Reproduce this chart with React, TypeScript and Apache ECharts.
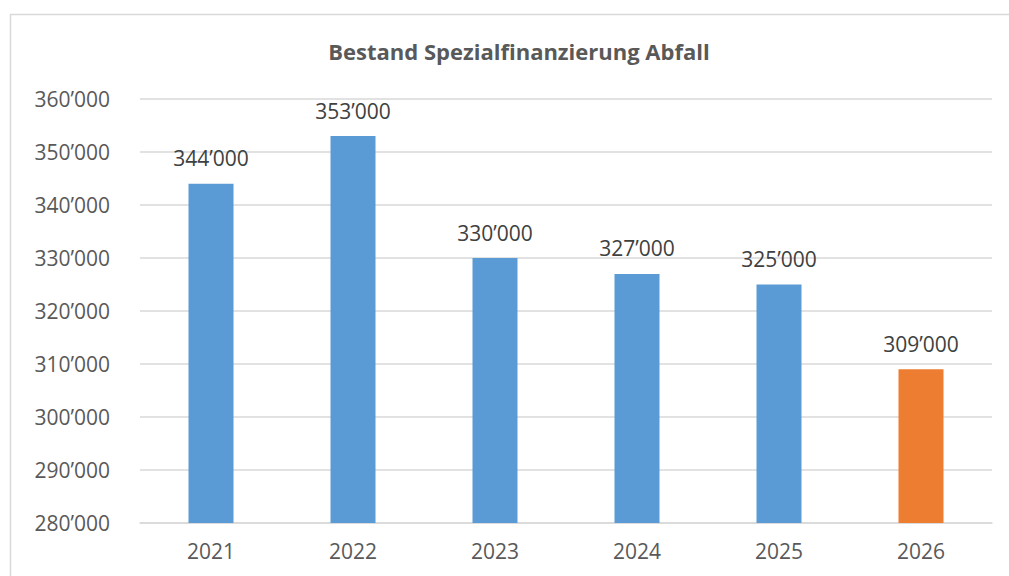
import React, { useEffect, useRef } from "react";
import * as echarts from "echarts";

const years = ["2021", "2022", "2023", "2024", "2025", "2026"];
const values = [344000, 353000, 330000, 327000, 325000, 309000];
const barColors = ["#5B9BD5", "#5B9BD5", "#5B9BD5", "#5B9BD5", "#5B9BD5", "#ED7D31"];
const titleText = "Bestand Spezialfinanzierung Abfall";

const fmt = (v: number) => {
  const s = String(Math.round(v));
  return s.replace(/\B(?=(\d{3})+(?!\d))/g, "\u2019");
};

const FONT = "'Open Sans', 'Noto Sans', sans-serif";

export default function App() {
  const ref = useRef<HTMLDivElement>(null);
  useEffect(() => {
    if (!ref.current) return;
    const chart = echarts.init(ref.current, undefined, { renderer: "svg" });
    chart.setOption({
      animation: false,
      backgroundColor: "#ffffff",
      title: {
        text: titleText,
        left: 514,
        textAlign: "center",
        top: 35,
        textStyle: { fontFamily: FONT, fontWeight: "bold", fontSize: 22, color: "#595959" },
      },
      graphic: [
        {
          type: "rect",
          shape: { x: 10.5, y: 14.5, width: 1100, height: 700 },
          style: { fill: "none", stroke: "#d9d9d9", lineWidth: 1.5 },
          silent: true,
        },
      ],
      grid: { left: 140, right: 17, top: 99, bottom: 53, containLabel: false },
      xAxis: {
        type: "category",
        data: years,
        axisLine: { show: true, lineStyle: { color: "#d9d9d9", width: 1.5 } },
        axisTick: { show: false },
        axisLabel: { fontFamily: FONT, fontSize: 21, color: "#595959", margin: 17 },
      },
      yAxis: {
        type: "value",
        min: 280000,
        max: 360000,
        interval: 10000,
        axisLine: { show: false },
        axisTick: { show: false },
        splitLine: { lineStyle: { color: "#d9d9d9", width: 1.5 } },
        axisLabel: {
          fontFamily: FONT,
          fontSize: 21,
          color: "#595959",
          margin: 30,
          formatter: (v: number) => fmt(v),
        },
      },
      series: [
        {
          type: "bar",
          barWidth: 45,
          data: values.map((v, i) => ({ value: v, itemStyle: { color: barColors[i] } })),
          label: {
            show: true,
            position: "top",
            distance: 15,
            fontFamily: FONT,
            fontSize: 21,
            color: "#404040",
            formatter: (p: any) => fmt(p.value),
          },
        },
      ],
    });
    return () => chart.dispose();
  }, []);
  return (
    <div
      ref={ref}
      style={{ position: "fixed", left: 0, top: 0, width: 1009, height: 576 }}
    />
  );
}
